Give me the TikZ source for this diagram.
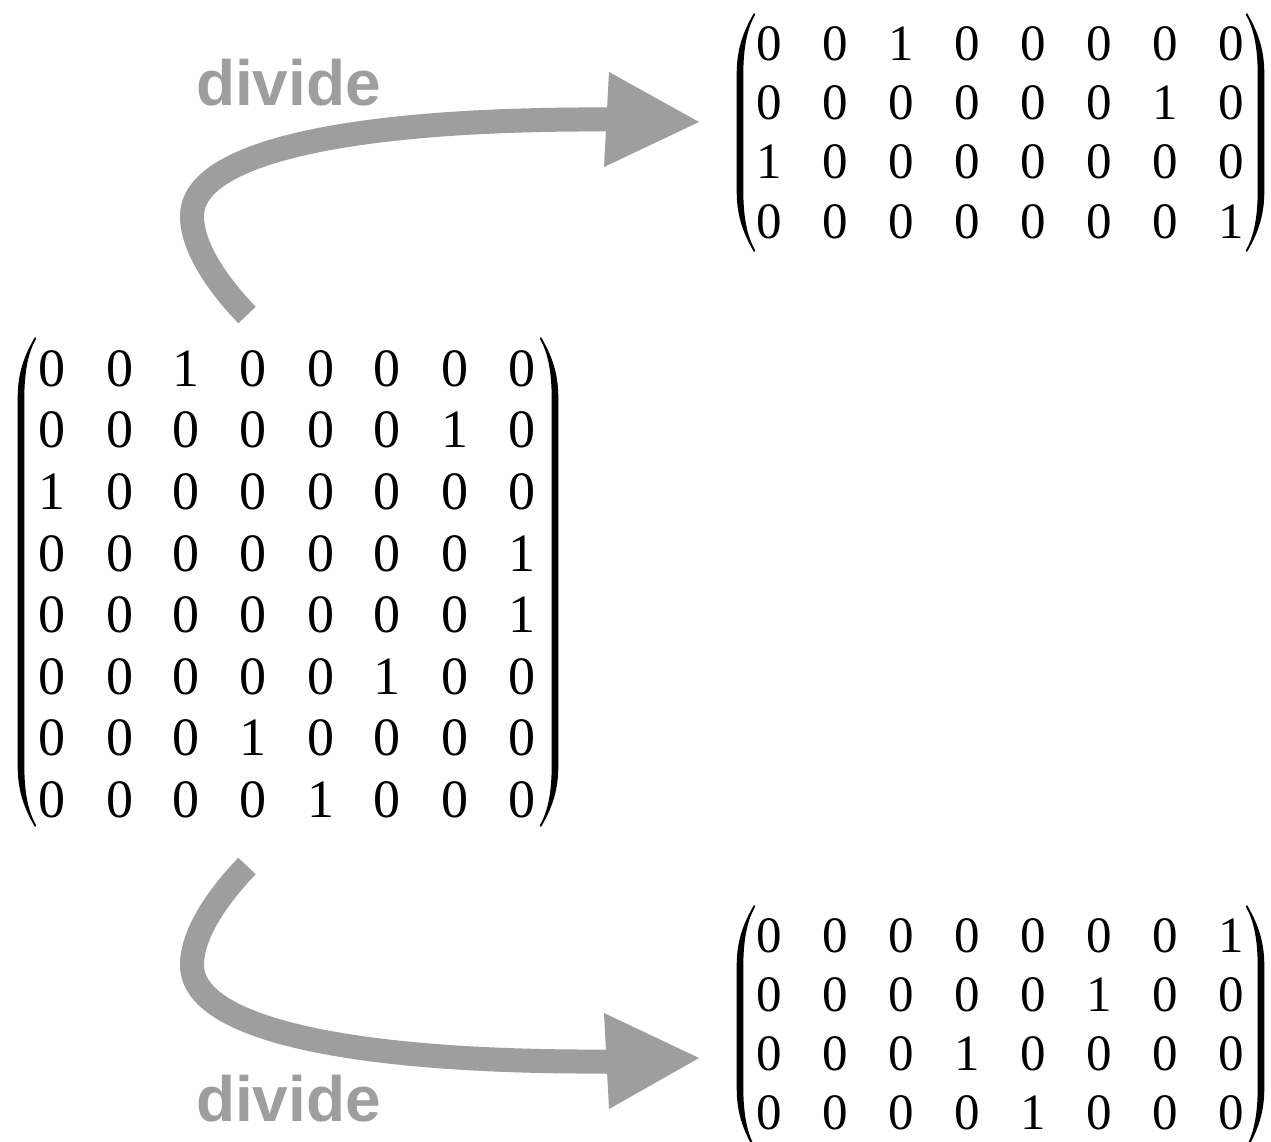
\documentclass[tikz,border=0pt]{standalone}
\usepackage{fontspec}
\setmainfont{Liberation Serif}
\newfontfamily\labelsans{Liberation Sans}
\usetikzlibrary{matrix,calc}
\definecolor{arrowgray}{RGB}{158,158,158}

% Tall round bracket: #1 stem x, #2 top y, #3 bottom y, #4 = 1 (left) or -1 (right)
\newcommand\matparen[4]{%
  \fill ({#1+(#4)*14},{#2})
    .. controls ({#1+(#4)*6},{#2+14}) and ({#1-(#4)*3.3},{#2+32}) .. ({#1-(#4)*3.3},{#2+60})
    -- ({#1-(#4)*3.3},{#3-60})
    .. controls ({#1-(#4)*3.3},{#3-32}) and ({#1+(#4)*6},{#3-14}) .. ({#1+(#4)*14},{#3})
    -- ({#1+(#4)*15.2},{#3-1.6})
    .. controls ({#1+(#4)*8},{#3-14}) and ({#1+(#4)*3.3},{#3-32}) .. ({#1+(#4)*3.3},{#3-62})
    -- ({#1+(#4)*3.3},{#2+62})
    .. controls ({#1+(#4)*3.3},{#2+32}) and ({#1+(#4)*8},{#2+14}) .. ({#1+(#4)*15.2},{#2+1.6})
    -- cycle;}

\begin{document}
\begin{tikzpicture}[x=1pt,y=-1pt,
  bigcell/.style={font=\fontsize{54}{54}\selectfont, minimum width=67pt,
    minimum height=37pt, inner sep=0pt, text height=36.5pt, text depth=0pt, anchor=center},
  smallcell/.style={font=\fontsize{51}{51}\selectfont, minimum width=66pt,
    minimum height=35pt, inner sep=0pt, text height=34.5pt, text depth=0pt, anchor=center},
  flowline/.style={draw=arrowgray, line width=24pt},
  tiphead/.style={fill=arrowgray},
  divlabel/.style={font=\labelsans\bfseries\fontsize{64}{64}\selectfont,
    text=arrowgray, anchor=base, inner sep=0pt}]

\fill[white] (0,0) rectangle (1271,1142);
\useasboundingbox (0,0) rectangle (1271,1142);

% full 8x8 matrix
\matrix (big) [matrix of nodes, nodes={bigcell}, row sep=24.6pt, column sep=0pt, inner sep=0pt]
  at (287,583.6) {
  0 & 0 & 1 & 0 & 0 & 0 & 0 & 0 \\
  0 & 0 & 0 & 0 & 0 & 0 & 1 & 0 \\
  1 & 0 & 0 & 0 & 0 & 0 & 0 & 0 \\
  0 & 0 & 0 & 0 & 0 & 0 & 0 & 1 \\
  0 & 0 & 0 & 0 & 0 & 0 & 0 & 1 \\
  0 & 0 & 0 & 0 & 0 & 1 & 0 & 0 \\
  0 & 0 & 0 & 1 & 0 & 0 & 0 & 0 \\
  0 & 0 & 0 & 0 & 1 & 0 & 0 & 0 \\
};
\matparen{21}{337}{827}{1}
\matparen{555}{337}{827}{-1}

% upper half
\matrix (top) [matrix of nodes, nodes={smallcell}, row sep=24.5pt, column sep=0pt, inner sep=0pt]
  at (1000,132) {
  0 & 0 & 1 & 0 & 0 & 0 & 0 & 0 \\
  0 & 0 & 0 & 0 & 0 & 0 & 1 & 0 \\
  1 & 0 & 0 & 0 & 0 & 0 & 0 & 0 \\
  0 & 0 & 0 & 0 & 0 & 0 & 0 & 1 \\
};
\matparen{740}{13}{252}{1}
\matparen{1261}{13}{252}{-1}

% lower half
\matrix (bot) [matrix of nodes, nodes={smallcell}, row sep=24pt, column sep=0pt, inner sep=0pt]
  at (1000,1024) {
  0 & 0 & 0 & 0 & 0 & 0 & 0 & 1 \\
  0 & 0 & 0 & 0 & 0 & 1 & 0 & 0 \\
  0 & 0 & 0 & 1 & 0 & 0 & 0 & 0 \\
  0 & 0 & 0 & 0 & 1 & 0 & 0 & 0 \\
};
\matparen{740}{905}{1149}{1}
\matparen{1261}{905}{1149}{-1}

% upper arrow
\coordinate (up-start) at (247,315);
\coordinate (up-base) at (612,119.5);
\coordinate (up-tip) at (699,122);
\draw[flowline] (up-start) .. controls (222,289) and (192,250) .. (192,216)
  .. controls (192,150) and (360,118) .. (up-base);
\fill[tiphead] (up-tip) -- ($(up-tip)+(-90,-50)$) -- ($(up-tip)+(-95,45)$) -- cycle;
\node[divlabel] (up-label) at (288.5,106) {divide};

% lower arrow
\coordinate (dn-start) at (247,866);
\coordinate (dn-base) at (612,1061.5);
\coordinate (dn-tip) at (699,1058);
\draw[flowline] (dn-start) .. controls (222,892) and (192,931) .. (192,965)
  .. controls (192,1031) and (360,1063) .. (dn-base);
\fill[tiphead] (dn-tip) -- ($(dn-tip)+(-95,-45)$) -- ($(dn-tip)+(-90,51)$) -- cycle;
\node[divlabel] (dn-label) at (288.5,1121) {divide};
\end{tikzpicture}
\end{document}
